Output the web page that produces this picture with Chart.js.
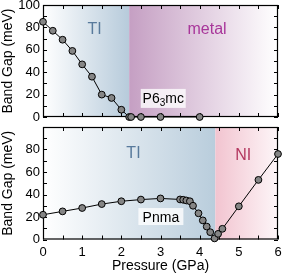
<!DOCTYPE html>
<html>
<head>
<meta charset="utf-8">
<script src="https://cdn.jsdelivr.net/npm/chart.js@4/dist/chart.umd.min.js"></script>
<style>
body { margin: 0; background: #fff; }
#wrap { position: relative; width: 283px; height: 277px; }
canvas { position: absolute; left: 0; }
</style>
</head>
<body>
<div id="wrap">
  <canvas id="top" width="283" height="122" style="top:0"></canvas>
  <canvas id="bot" width="283" height="155" style="top:122px"></canvas>
</div>
<script>
// P6_3mc phase (upper panel)
var hexP   = [0, 0.25, 0.5, 0.75, 1, 1.25, 1.5, 1.75, 2, 2.2, 2.25, 2.5, 3, 4];
var hexGap = [85, 77, 69, 59, 47, 36, 20, 17, 6.5, 0, 0, 0, 0, 0];

// Pnma phase (lower panel)
var ortP   = [0, 0.5, 1, 1.5, 2, 2.5, 3, 3.5, 3.58, 3.66, 3.75, 3.83, 3.97, 4.08, 4.18, 4.27, 4.38, 4.47, 4.58, 5, 5.5, 6];
var ortGap = [22, 25, 28, 31.5, 34, 35.5, 36.5, 35.6, 35.3, 34.7, 34, 30, 23.3, 17, 11.5, 6.5, 1, 5, 9.5, 29.5, 53, 76];

var xTicks = [0, 1, 2, 3, 4, 5, 6];
var yTicks = [0, 20, 40, 60, 80, 100];

var FONT = "'Liberation Sans', Arial, Helvetica, sans-serif";

// draws shaded phase regions, labels, frame and inward ticks
var panelPlugin = {
  id: 'panel',
  beforeDatasetsDraw: function(chart, args, opts) {
    var ctx = chart.ctx, a = chart.chartArea;
    var xs = chart.scales.x, ys = chart.scales.y;
    ctx.save();

    opts.bands.forEach(function(b) {
      var x0 = xs.getPixelForValue(b.from), x1 = xs.getPixelForValue(b.to);
      var g = ctx.createLinearGradient(x0, 0, x1, 0);
      g.addColorStop(0, b.c0);
      g.addColorStop(1, b.c1);
      ctx.fillStyle = g;
      ctx.fillRect(x0, a.top, x1 - x0, a.bottom - a.top);
    });

    ctx.textAlign = 'center';
    ctx.textBaseline = 'middle';
    opts.texts.forEach(function(t) {
      ctx.font = '16px ' + FONT;
      ctx.fillStyle = t.color;
      ctx.fillText(t.text, xs.getPixelForValue(t.x), ys.getPixelForValue(t.y));
    });

    opts.boxes.forEach(function(b) {
      var cx = xs.getPixelForValue(b.x), cy = ys.getPixelForValue(b.y);
      ctx.fillStyle = 'rgba(255,255,255,0.78)';
      ctx.fillRect(cx - b.w / 2, cy - b.h / 2, b.w, b.h);
      ctx.fillStyle = '#000';
      ctx.textAlign = 'left';
      ctx.textBaseline = 'alphabetic';
      var total = 0;
      b.parts.forEach(function(p) {
        ctx.font = (p[1] ? '10px ' : '14px ') + FONT;
        total += ctx.measureText(p[0]).width;
      });
      var x = cx - total / 2, base = cy + 5;
      b.parts.forEach(function(p) {
        ctx.font = (p[1] ? '10px ' : '14px ') + FONT;
        ctx.fillText(p[0], x, base + (p[1] ? 3 : 0));
        x += ctx.measureText(p[0]).width;
      });
    });

    // frame
    ctx.strokeStyle = '#000';
    ctx.lineWidth = 1.2;
    ctx.strokeRect(a.left + 0.5, a.top + 0.5, a.right - a.left - 1, a.bottom - a.top - 1);

    // inward ticks
    ctx.lineWidth = 1;
    ctx.beginPath();
    for (var v = 0; v <= 6; v += 0.5) {
      var px = Math.round(xs.getPixelForValue(v)) + 0.5;
      ctx.moveTo(px, a.bottom); ctx.lineTo(px, a.bottom - 4);
      ctx.moveTo(px, a.top); ctx.lineTo(px, a.top + 4);
    }
    for (var w = 0; w <= 100; w += 10) {
      var py = Math.round(ys.getPixelForValue(w)) + 0.5;
      ctx.moveTo(a.left, py); ctx.lineTo(a.left + 4, py);
      ctx.moveTo(a.right, py); ctx.lineTo(a.right - 4, py);
    }
    ctx.stroke();
    ctx.restore();
  }
};

var makeData = function(xsArr, ysArr) {
  return {
    datasets: [{
      data: xsArr.map(function(x, i) { return { x: x, y: ysArr[i] }; }),
      borderColor: '#000',
      borderWidth: 1,
      backgroundColor: '#858585',
      pointBorderColor: '#000',
      pointBorderWidth: 1,
      pointRadius: 3.4,
      tension: 0,
      clip: false
    }]
  };
};

var yScale = function(hideTop) {
  return {
    type: 'linear',
    min: 0, max: 100,
    grid: { display: false, drawTicks: false },
    border: { display: false },
    afterBuildTicks: function(s) { s.ticks = yTicks.map(function(v) { return { value: v }; }); },
    afterFit: function(s) { s.width = 43; s.paddingTop = 0; s.paddingBottom = 0; },
    ticks: {
      padding: 3,
      color: '#000',
      font: { family: FONT, size: 13 },
      callback: function(v) { return (hideTop && v === 100) ? '' : v; }
    },
    title: { display: true, text: 'Band Gap (meV)', color: '#000', padding: 0, font: { family: FONT, size: 14 } }
  };
};

new Chart(document.getElementById('top'), {
  type: 'line',
  data: makeData(hexP, hexGap),
  plugins: [panelPlugin],
  options: {
    responsive: false,
    animation: false,
    layout: { padding: { top: 5, right: 4, bottom: 4, left: 0 } },
    plugins: {
      legend: { display: false },
      tooltip: { enabled: false },
      panel: {
        bands: [
          { from: 0, to: 2.2, c0: '#ffffff', c1: '#b7cbdb' },
          { from: 2.2, to: 6, c0: '#c59fc3', c1: '#ffffff' }
        ],
        texts: [
          { text: 'TI', x: 1.32, y: 78, color: '#587a9c' },
          { text: 'metal', x: 4.19, y: 78, color: '#a8369a' }
        ],
        boxes: [
          { parts: [['P6', 0], ['3', 1], ['mc', 0]], x: 3.07, y: 16.6, w: 45, h: 19 }
        ]
      }
    },
    scales: {
      x: { type: 'linear', min: 0, max: 6, display: false },
      y: yScale(false)
    }
  }
});

new Chart(document.getElementById('bot'), {
  type: 'line',
  data: makeData(ortP, ortGap),
  plugins: [panelPlugin],
  options: {
    responsive: false,
    animation: false,
    layout: { padding: { top: 4, right: 4, bottom: 0, left: 0 } },
    plugins: {
      legend: { display: false },
      tooltip: { enabled: false },
      panel: {
        bands: [
          { from: 0, to: 4.4, c0: '#ffffff', c1: '#b9cddc' },
          { from: 4.4, to: 6, c0: '#f2c4d0', c1: '#fdf6f8' }
        ],
        texts: [
          { text: 'TI', x: 2.31, y: 76.6, color: '#587a9c' },
          { text: 'NI', x: 5.11, y: 74.8, color: '#b4375f' }
        ],
        boxes: [
          { parts: [['Pnma', 0]], x: 3.01, y: 20.4, w: 45, h: 17 }
        ]
      }
    },
    scales: {
      x: {
        type: 'linear',
        min: 0, max: 6,
        grid: { display: false, drawTicks: false },
        border: { display: false },
        afterBuildTicks: function(s) { s.ticks = xTicks.map(function(v) { return { value: v }; }); },
        afterFit: function(s) { s.height = 37.5; s.paddingLeft = 0; s.paddingRight = 0; },
        ticks: { padding: 5, color: '#000', maxRotation: 0, font: { family: FONT, size: 13 } },
        title: { display: true, text: 'Pressure (GPa)', color: '#000', padding: { top: 0, bottom: 2 }, font: { family: FONT, size: 14 } }
      },
      y: yScale(true)
    }
  }
});
</script>
</body>
</html>
